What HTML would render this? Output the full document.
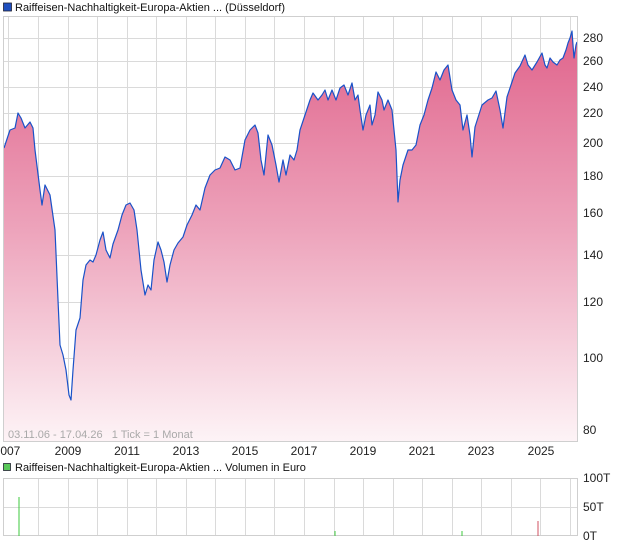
<!DOCTYPE html>
<html><head><meta charset="utf-8"><style>
body{margin:0;background:#fff;width:620px;height:546px;overflow:hidden}
svg text{font-family:"Liberation Sans",sans-serif}
</style></head><body>
<svg width="620" height="546" xmlns="http://www.w3.org/2000/svg">
<defs>
<linearGradient id="g" gradientUnits="userSpaceOnUse" x1="0" y1="16" x2="0" y2="441">
<stop offset="0" stop-color="#df5f88"/>
<stop offset="0.5" stop-color="#eda3bb"/>
<stop offset="1" stop-color="#fdf3f6"/>
</linearGradient>
</defs>
<rect x="3.5" y="3" width="8" height="8" fill="#1f4fbf" stroke="#223" stroke-width="0.8"/>
<text x="15" y="11" font-size="11" fill="#111">Raiffeisen-Nachhaltigkeit-Europa-Aktien ... (Düsseldorf)</text>
<g stroke="#dadada" stroke-width="1">
<line x1="8.5" y1="16" x2="8.5" y2="441"/><line x1="38.5" y1="16" x2="38.5" y2="441"/><line x1="68.5" y1="16" x2="68.5" y2="441"/><line x1="97.5" y1="16" x2="97.5" y2="441"/><line x1="127.5" y1="16" x2="127.5" y2="441"/><line x1="156.5" y1="16" x2="156.5" y2="441"/><line x1="186.5" y1="16" x2="186.5" y2="441"/><line x1="215.5" y1="16" x2="215.5" y2="441"/><line x1="245.5" y1="16" x2="245.5" y2="441"/><line x1="274.5" y1="16" x2="274.5" y2="441"/><line x1="304.5" y1="16" x2="304.5" y2="441"/><line x1="334.5" y1="16" x2="334.5" y2="441"/><line x1="363.5" y1="16" x2="363.5" y2="441"/><line x1="393.5" y1="16" x2="393.5" y2="441"/><line x1="422.5" y1="16" x2="422.5" y2="441"/><line x1="452.5" y1="16" x2="452.5" y2="441"/><line x1="481.5" y1="16" x2="481.5" y2="441"/><line x1="511.5" y1="16" x2="511.5" y2="441"/><line x1="540.5" y1="16" x2="540.5" y2="441"/><line x1="570.5" y1="16" x2="570.5" y2="441"/>
<line x1="3" y1="38.5" x2="578" y2="38.5"/><line x1="3" y1="61.5" x2="578" y2="61.5"/><line x1="3" y1="87.5" x2="578" y2="87.5"/><line x1="3" y1="113.5" x2="578" y2="113.5"/><line x1="3" y1="143.5" x2="578" y2="143.5"/><line x1="3" y1="176.5" x2="578" y2="176.5"/><line x1="3" y1="213.5" x2="578" y2="213.5"/><line x1="3" y1="255.5" x2="578" y2="255.5"/><line x1="3" y1="302.5" x2="578" y2="302.5"/><line x1="3" y1="358.5" x2="578" y2="358.5"/><line x1="3" y1="430.5" x2="578" y2="430.5"/>
</g>
<path id="p" fill="url(#g)" stroke="none" d="M4,441 L4,148 L10,130 L15,128 L18,113 L21,118 L25,128 L30,122 L33,128 L35,150 L40,190 L42,205 L45,185 L50,195 L55,230 L58,300 L60,345 L63,355 L66,370 L69,395 L71,400 L73,370 L76,330 L80,318 L83,280 L86,265 L90,260 L93,262 L96,255 L100,240 L103,232 L106,250 L110,258 L113,244 L118,230 L122,215 L126,205 L130,203 L134,210 L137,230 L141,270 L145,295 L148,285 L151,290 L154,260 L158,242 L161,250 L164,262 L167,282 L170,265 L174,250 L178,243 L183,237 L187,225 L192,215 L196,205 L200,210 L205,188 L210,175 L215,170 L220,168 L225,157 L230,160 L235,170 L240,168 L245,140 L250,130 L255,125 L258,133 L261,160 L264,175 L268,135 L272,145 L276,165 L279,182 L283,160 L286,175 L290,155 L294,160 L297,150 L300,130 L305,115 L310,100 L313,93 L318,100 L322,95 L325,90 L328,100 L332,90 L336,100 L340,88 L344,85 L348,95 L352,83 L355,100 L358,95 L360,110 L363,130 L366,115 L370,105 L372,125 L375,115 L378,92 L382,100 L384,110 L388,100 L392,110 L396,150 L398,202 L400,180 L403,165 L408,150 L412,150 L416,145 L420,125 L424,115 L428,100 L432,88 L436,72 L440,80 L444,70 L448,65 L452,90 L456,100 L460,105 L463,130 L467,115 L470,135 L472,157 L475,127 L482,105 L488,100 L492,98 L496,91 L500,110 L503,128 L507,97 L511,85 L515,73 L520,66 L525,55 L528,65 L532,70 L537,62 L542,53 L545,65 L547,68 L550,58 L553,62 L557,65 L560,60 L563,58 L566,50 L568,43 L570,38 L572,31 L573,45 L574,58 L576,45 L577,42 L577,441 Z"/>
<path fill="none" stroke="#1a52c8" stroke-width="1.2" stroke-linejoin="round" d="M4,148 L10,130 L15,128 L18,113 L21,118 L25,128 L30,122 L33,128 L35,150 L40,190 L42,205 L45,185 L50,195 L55,230 L58,300 L60,345 L63,355 L66,370 L69,395 L71,400 L73,370 L76,330 L80,318 L83,280 L86,265 L90,260 L93,262 L96,255 L100,240 L103,232 L106,250 L110,258 L113,244 L118,230 L122,215 L126,205 L130,203 L134,210 L137,230 L141,270 L145,295 L148,285 L151,290 L154,260 L158,242 L161,250 L164,262 L167,282 L170,265 L174,250 L178,243 L183,237 L187,225 L192,215 L196,205 L200,210 L205,188 L210,175 L215,170 L220,168 L225,157 L230,160 L235,170 L240,168 L245,140 L250,130 L255,125 L258,133 L261,160 L264,175 L268,135 L272,145 L276,165 L279,182 L283,160 L286,175 L290,155 L294,160 L297,150 L300,130 L305,115 L310,100 L313,93 L318,100 L322,95 L325,90 L328,100 L332,90 L336,100 L340,88 L344,85 L348,95 L352,83 L355,100 L358,95 L360,110 L363,130 L366,115 L370,105 L372,125 L375,115 L378,92 L382,100 L384,110 L388,100 L392,110 L396,150 L398,202 L400,180 L403,165 L408,150 L412,150 L416,145 L420,125 L424,115 L428,100 L432,88 L436,72 L440,80 L444,70 L448,65 L452,90 L456,100 L460,105 L463,130 L467,115 L470,135 L472,157 L475,127 L482,105 L488,100 L492,98 L496,91 L500,110 L503,128 L507,97 L511,85 L515,73 L520,66 L525,55 L528,65 L532,70 L537,62 L542,53 L545,65 L547,68 L550,58 L553,62 L557,65 L560,60 L563,58 L566,50 L568,43 L570,38 L572,31 L573,45 L574,58 L576,45 L577,42"/>
<rect x="3.5" y="16.5" width="574" height="425" fill="none" stroke="#cfcfcf"/>
<text x="8" y="438" font-size="11" fill="#a9a9a9" xml:space="preserve">03.11.06 - 17.04.26   1 Tick = 1 Monat</text>
<g font-size="12" fill="#222">
<text x="583" y="42">280</text><text x="583" y="65">260</text><text x="583" y="91">240</text><text x="583" y="117">220</text><text x="583" y="147">200</text><text x="583" y="180">180</text><text x="583" y="217">160</text><text x="583" y="259">140</text><text x="583" y="306">120</text><text x="583" y="362">100</text><text x="583" y="434">80</text>
</g>
<g font-size="12" fill="#222" text-anchor="middle">
<text x="7" y="455">2007</text><text x="68" y="455">2009</text><text x="127" y="455">2011</text><text x="186" y="455">2013</text><text x="245" y="455">2015</text><text x="304" y="455">2017</text><text x="363" y="455">2019</text><text x="422" y="455">2021</text><text x="481" y="455">2023</text><text x="541" y="455">2025</text>
</g>
<rect x="3.5" y="463.5" width="7" height="7" fill="#5ac85a" stroke="#223" stroke-width="0.8"/>
<text x="15" y="471" font-size="11" fill="#111">Raiffeisen-Nachhaltigkeit-Europa-Aktien ... Volumen in Euro</text>
<g stroke="#dadada" stroke-width="1">
<line x1="38.5" y1="478" x2="38.5" y2="536"/><line x1="68.5" y1="478" x2="68.5" y2="536"/><line x1="97.5" y1="478" x2="97.5" y2="536"/><line x1="127.5" y1="478" x2="127.5" y2="536"/><line x1="156.5" y1="478" x2="156.5" y2="536"/><line x1="186.5" y1="478" x2="186.5" y2="536"/><line x1="215.5" y1="478" x2="215.5" y2="536"/><line x1="245.5" y1="478" x2="245.5" y2="536"/><line x1="274.5" y1="478" x2="274.5" y2="536"/><line x1="304.5" y1="478" x2="304.5" y2="536"/><line x1="334.5" y1="478" x2="334.5" y2="536"/><line x1="363.5" y1="478" x2="363.5" y2="536"/><line x1="393.5" y1="478" x2="393.5" y2="536"/><line x1="422.5" y1="478" x2="422.5" y2="536"/><line x1="452.5" y1="478" x2="452.5" y2="536"/><line x1="481.5" y1="478" x2="481.5" y2="536"/><line x1="511.5" y1="478" x2="511.5" y2="536"/><line x1="540.5" y1="478" x2="540.5" y2="536"/><line x1="570.5" y1="478" x2="570.5" y2="536"/>
<line x1="3" y1="507.5" x2="578" y2="507.5"/>
</g>
<rect x="3.5" y="478.5" width="574" height="57" fill="none" stroke="#cfcfcf"/>
<line x1="19" y1="497" x2="19" y2="536" stroke="#3cc83c" stroke-width="1"/>
<line x1="335" y1="531" x2="335" y2="536" stroke="#3cc83c" stroke-width="1"/>
<line x1="462" y1="531" x2="462" y2="536" stroke="#3cc83c" stroke-width="1"/>
<line x1="538" y1="521" x2="538" y2="536" stroke="#d05060" stroke-width="1"/>
<g font-size="12" fill="#222">
<text x="583" y="482">100T</text><text x="583" y="511">50T</text><text x="583" y="540">0T</text>
</g>
</svg>
</body></html>
